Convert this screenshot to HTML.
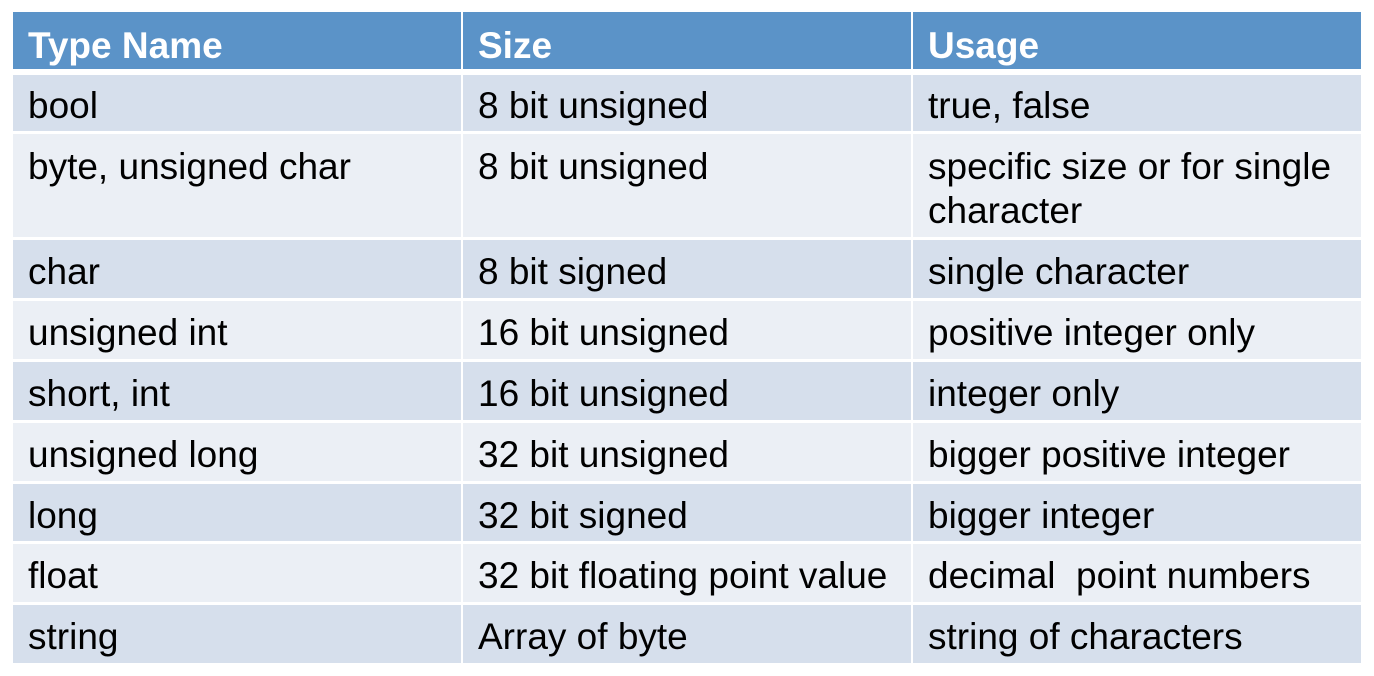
<!DOCTYPE html>
<html><head><style>
body{margin:0;width:1374px;height:676px;background:#fff;position:relative;font-family:"Liberation Sans",Arial,sans-serif;overflow:hidden}
.c{position:absolute;box-sizing:border-box;padding:14px 0 0 15px;font-size:37px;line-height:44px;color:#000}
.h{background:#5B93C8;color:#fff;font-weight:bold;padding-top:12px!important}
.o{background:#D6DFEC}.e{background:#EBEFF5}
</style></head><body>
<div class="c h" style="left:13px;top:12px;width:448px;height:57px">Type Name</div>
<div class="c h" style="left:463px;top:12px;width:448px;height:57px">Size</div>
<div class="c h" style="left:913px;top:12px;width:448px;height:57px">Usage</div>

<div class="c o" style="left:13px;top:75px;width:448px;height:56px;padding-top:9px">bool</div>
<div class="c o" style="left:463px;top:75px;width:448px;height:56px;padding-top:9px">8 bit unsigned</div>
<div class="c o" style="left:913px;top:75px;width:448px;height:56px;padding-top:9px">true, false</div>

<div class="c e" style="left:13px;top:134px;width:448px;height:103px;padding-top:11px">byte, unsigned char</div>
<div class="c e" style="left:463px;top:134px;width:448px;height:103px;padding-top:11px">8 bit unsigned</div>
<div class="c e" style="left:913px;top:134px;width:448px;height:103px;padding-top:11px">specific size or for single character</div>

<div class="c o" style="left:13px;top:240px;width:448px;height:58px;padding-top:10px">char</div>
<div class="c o" style="left:463px;top:240px;width:448px;height:58px;padding-top:10px">8 bit signed</div>
<div class="c o" style="left:913px;top:240px;width:448px;height:58px;padding-top:10px">single character</div>

<div class="c e" style="left:13px;top:301px;width:448px;height:58px;padding-top:10px">unsigned int</div>
<div class="c e" style="left:463px;top:301px;width:448px;height:58px;padding-top:10px">16 bit unsigned</div>
<div class="c e" style="left:913px;top:301px;width:448px;height:58px;padding-top:10px">positive integer only</div>

<div class="c o" style="left:13px;top:362px;width:448px;height:58px;padding-top:10px">short, int</div>
<div class="c o" style="left:463px;top:362px;width:448px;height:58px;padding-top:10px">16 bit unsigned</div>
<div class="c o" style="left:913px;top:362px;width:448px;height:58px;padding-top:10px">integer only</div>

<div class="c e" style="left:13px;top:423px;width:448px;height:58px;padding-top:10px">unsigned long</div>
<div class="c e" style="left:463px;top:423px;width:448px;height:58px;padding-top:10px">32 bit unsigned</div>
<div class="c e" style="left:913px;top:423px;width:448px;height:58px;padding-top:10px">bigger positive integer</div>

<div class="c o" style="left:13px;top:484px;width:448px;height:57px;padding-top:10px">long</div>
<div class="c o" style="left:463px;top:484px;width:448px;height:57px;padding-top:10px">32 bit signed</div>
<div class="c o" style="left:913px;top:484px;width:448px;height:57px;padding-top:10px">bigger integer</div>

<div class="c e" style="left:13px;top:544px;width:448px;height:58px;padding-top:10px">float</div>
<div class="c e" style="left:463px;top:544px;width:448px;height:58px;padding-top:10px;white-space:nowrap">32 bit floating point value</div>
<div class="c e" style="left:913px;top:544px;width:448px;height:58px;padding-top:10px;white-space:pre">decimal  point numbers</div>

<div class="c o" style="left:13px;top:605px;width:448px;height:58px;padding-top:10px">string</div>
<div class="c o" style="left:463px;top:605px;width:448px;height:58px;padding-top:10px">Array of byte</div>
<div class="c o" style="left:913px;top:605px;width:448px;height:58px;padding-top:10px">string of characters</div>
</body></html>
